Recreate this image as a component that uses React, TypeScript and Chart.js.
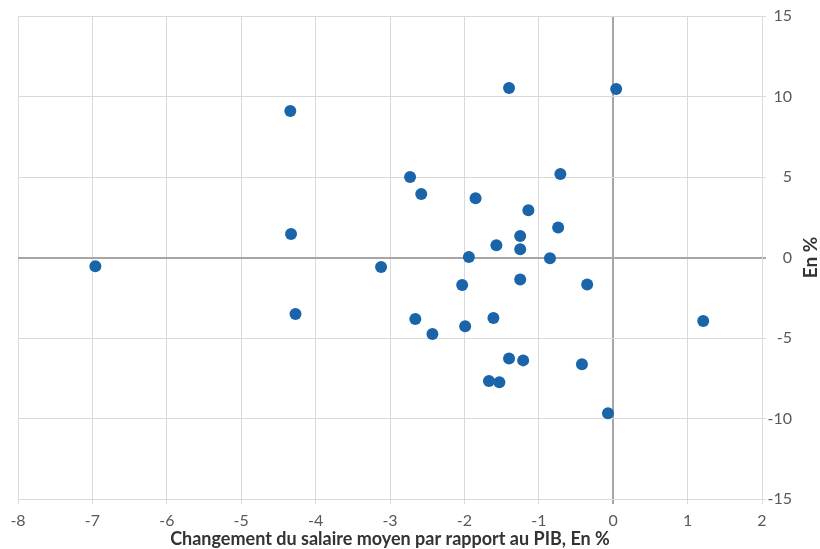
import React, { useEffect, useRef } from "react";
import { Chart, registerables } from "chart.js";

Chart.register(...registerables);

const xValues = [
  -6.96, -4.34, -4.33, -4.27, -3.12, -2.73, -2.58, -2.66, -2.43, -1.85, -1.94,
  -2.03, -1.99, -1.57, -1.61, -1.4, -1.4, -1.67, -1.53, -1.21, -1.14, -1.25,
  -1.25, -1.25, -0.85, -0.71, -0.74, -0.35, -0.42, -0.07, 0.04, 1.21,
];
const yValues = [
  -0.55, 9.1, 1.46, -3.51, -0.59, 5.0, 3.94, -3.82, -4.75, 3.68, 0.03, -1.71,
  -4.27, 0.76, -3.76, 10.53, -6.28, -7.67, -7.75, -6.39, 2.93, 1.34, 0.51,
  -1.37, -0.05, 5.19, 1.87, -1.67, -6.63, -9.68, 10.47, -3.94,
];
const xTitle = "Changement du salaire moyen par rapport au PIB, En %";
const yTitle = "En %";

const FONT = "Lato, 'Noto Sans', sans-serif";
const GRID = "#d9d9d9";
const ZERO = "#a6a6a6";
const TEXT = "#595959";
const TITLE = "#333333";

export default function App() {
  const ref = useRef<HTMLCanvasElement | null>(null);
  useEffect(() => {
    document.body.style.margin = "0";
    const canvas = ref.current;
    if (!canvas) return;
    const yTitlePlugin = {
      id: "yTitleLeftRot",
      afterDraw(chart: any) {
        const { ctx, chartArea } = chart;
        ctx.save();
        ctx.translate(811, (chartArea.top + chartArea.bottom) / 2);
        ctx.rotate(-Math.PI / 2);
        ctx.font = `bold 19px ${FONT}`;
        ctx.fillStyle = TITLE;
        ctx.textAlign = "center";
        ctx.textBaseline = "middle";
        ctx.fillText(yTitle, 0, 0);
        ctx.restore();
      },
    };
    const chart = new Chart(canvas, {
      type: "scatter",
      data: {
        datasets: [
          {
            data: xValues.map((x, i) => ({ x, y: yValues[i] })),
            backgroundColor: "#1a65a9",
            borderColor: "#1a65a9",
            pointRadius: 6,
            pointHoverRadius: 6,
            borderWidth: 0,
          },
        ],
      },
      options: {
        animation: false,
        responsive: true,
        maintainAspectRatio: false,
        layout: { padding: { left: 18, top: 16, right: 28, bottom: 0 } },
        plugins: { legend: { display: false }, tooltip: { enabled: false } },
        scales: {
          x: {
            type: "linear",
            position: "bottom",
            min: -8,
            max: 2,
            ticks: {
              stepSize: 1,
              padding: 7,
              color: TEXT,
              font: { family: FONT, size: 16 },
            },
            grid: {
              color: (c: any) => (c.tick && c.tick.value === 0 ? ZERO : GRID),
              lineWidth: (c: any) => (c.tick && c.tick.value === 0 ? 2 : 1),
              tickLength: 5,
            },
            border: { color: GRID },
            title: {
              display: true,
              text: xTitle,
              color: TITLE,
              font: { family: FONT, size: 18, weight: "bold" },
              padding: { top: 0, bottom: -1 },
            },
            afterFit(scale: any) {
              scale.height = 50;
            },
          },
          y: {
            type: "linear",
            position: "right",
            min: -15,
            max: 15,
            ticks: {
              stepSize: 5,
              padding: 3,
              crossAlign: "far",
              color: TEXT,
              font: { family: FONT, size: 16 },
            },
            grid: {
              color: (c: any) => (c.tick && c.tick.value === 0 ? ZERO : GRID),
              lineWidth: (c: any) => (c.tick && c.tick.value === 0 ? 2 : 1),
              tickLength: 4,
            },
            border: { color: GRID },
            afterFit(scale: any) {
              scale.width = 30;
            },
          },
        },
      },
      plugins: [yTitlePlugin],
    } as any);
    return () => chart.destroy();
  }, []);
  return (
    <div style={{ position: "relative", width: 820, height: 549 }}>
      <canvas ref={ref} />
    </div>
  );
}
